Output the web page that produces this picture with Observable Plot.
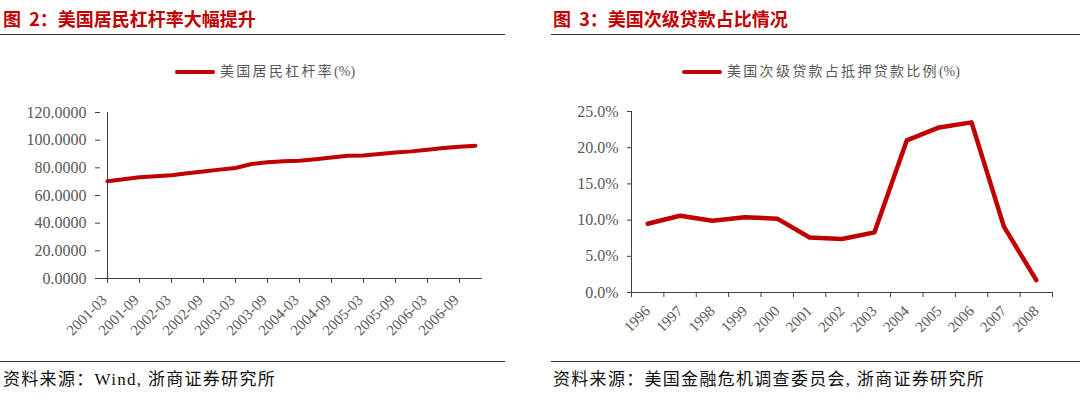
<!DOCTYPE html>
<html><head><meta charset="utf-8">
<script src="https://cdn.jsdelivr.net/npm/d3@7"></script>
<script src="https://cdn.jsdelivr.net/npm/@observablehq/plot@0.6"></script>
<style>
body{margin:0;background:#fff;}
#page{position:relative;width:1080px;height:397px;overflow:hidden;background:#fff;font-family:"Liberation Serif","Noto Sans CJK SC",serif;}
.title{position:absolute;top:5px;font-family:"Noto Sans CJK SC",sans-serif;font-weight:bold;font-size:18px;color:#c00000;line-height:26px;white-space:nowrap;}
.rule{position:absolute;height:0;border-top:1.5px solid #333;}
.legend{position:absolute;top:62px;font-size:14px;color:#595959;display:flex;align-items:center;white-space:nowrap;line-height:20px;}
.legend .cjk{letter-spacing:2.3px;}
.legend .sw{display:inline-block;width:40px;height:4px;background:#c00000;margin-right:5px;border-radius:2px;}
.src{position:absolute;top:369px;font-size:17px;color:#111;white-space:nowrap;letter-spacing:1.3px;line-height:22px;}
.chart{position:absolute;top:100px;}
</style></head>
<body><div id="page">
<div class="title" style="left:3px">图&nbsp;&nbsp;2：美国居民杠杆率大幅提升</div>
<div class="rule" style="left:0;width:505px;top:34px"></div>
<div class="legend" style="left:175px"><span class="sw"></span><span class="cjk">美国居民杠杆率</span><span>(%)</span></div>
<div class="chart" id="left" style="left:0"></div>
<div class="rule" style="left:0;width:505px;top:361px"></div>
<div class="src" style="left:3px">资料来源：Wind, 浙商证券研究所</div>

<div class="title" style="left:553px">图&nbsp;&nbsp;3：美国次级贷款占比情况</div>
<div class="rule" style="left:551px;width:529px;top:34px"></div>
<div class="legend" style="left:682px"><span class="sw"></span><span class="cjk">美国次级贷款占抵押贷款比例</span><span>(%)</span></div>
<div class="chart" id="right" style="left:551px"></div>
<div class="rule" style="left:551px;width:529px;top:361px"></div>
<div class="src" style="left:553px">资料来源：美国金融危机调查委员会, 浙商证券研究所</div>
</div>
<script>
// Left chart data: US household leverage (%), quarterly
const quarters = ["2001-03","2001-06","2001-09","2001-12","2002-03","2002-06","2002-09","2002-12",
  "2003-03","2003-06","2003-09","2003-12","2004-03","2004-06","2004-09","2004-12",
  "2005-03","2005-06","2005-09","2005-12","2006-03","2006-06","2006-09","2006-12"];
const leverage = [70.3,71.7,73.2,73.9,74.6,76.1,77.3,78.7,79.9,82.8,84.0,84.7,
  85.2,86.2,87.4,88.8,89.0,90.0,91.0,91.9,93.1,94.3,95.3,96.0];
const quarterTicks = ["2001-03","2001-09","2002-03","2002-09","2003-03","2003-09",
  "2004-03","2004-09","2005-03","2005-09","2006-03","2006-09"];
const leverageTicks = [0,20,40,60,80,100,120];

// Right chart data: subprime share of mortgage loans (%)
const years = [1996,1997,1998,1999,2000,2001,2002,2003,2004,2005,2006,2007,2008];
const subprimeShare = [9.5,10.6,9.9,10.4,10.2,7.6,7.4,8.3,21.0,22.8,23.5,9.1,1.7];
const shareTicks = [0,5,10,15,20,25];

const RED = "#c00000", GRAY = "#595959", AXIS = "#404040";

const leftData = quarters.map((q,i)=>({q, v: leverage[i]}));
const left = Plot.plot({
  width: 505, height: 250,
  marginLeft: 100, marginRight: 23, marginTop: 12, marginBottom: 72,
  style: {fontFamily: "Liberation Serif, serif", fontSize: "16px", background: "transparent"},
  x: {type: "point", domain: quarters, padding: 0},
  y: {domain: [0, 120]},
  marks: [
    Plot.axisY({ticks: leverageTicks, tickFormat: d => d.toFixed(4), tickSize: 5, tickPadding: 9, fontSize: 16, stroke: AXIS, fill: GRAY, label: null}),
    Plot.axisX({ticks: quarterTicks, tickFormat: () => "", tickSize: 5, stroke: AXIS, label: null}),
    Plot.axisX({ticks: quarterTicks, tickRotate: -45, tickSize: 0, tickPadding: 19, dx: -3, fontSize: 15, fill: GRAY, label: null}),
    Plot.ruleY([0], {stroke: AXIS}),
    Plot.ruleX([quarters[0]], {stroke: AXIS}),
    Plot.line(leftData, {x: "q", y: "v", stroke: RED, strokeWidth: 4, strokeLinejoin: "round", strokeLinecap: "round"})
  ]
});
document.getElementById("left").appendChild(left);

const rightData = years.map((y,i)=>({y, v: subprimeShare[i]}));
const boundaries = years.map(y => y - 0.5).concat([years[years.length-1] + 0.5]);
const right = Plot.plot({
  width: 529, height: 250,
  marginLeft: 80, marginRight: 28, marginTop: 11, marginBottom: 58,
  style: {fontFamily: "Liberation Serif, serif", fontSize: "16px", background: "transparent"},
  x: {domain: [boundaries[0], boundaries[boundaries.length-1]]},
  y: {domain: [0, 25]},
  marks: [
    Plot.axisY({ticks: shareTicks, tickFormat: d => d.toFixed(1) + "%", tickSize: 4, tickPadding: 9, fontSize: 16, stroke: AXIS, fill: GRAY, label: null}),
    Plot.axisX({ticks: boundaries, tickFormat: () => "", tickSize: 5, stroke: AXIS, label: null}),
    Plot.axisX({ticks: years, tickFormat: d => String(d), tickSize: 0, tickRotate: -45, tickPadding: 16, fontSize: 15, fill: GRAY, label: null}),
    Plot.ruleY([0], {stroke: AXIS}),
    Plot.ruleX([boundaries[0]], {stroke: AXIS}),
    Plot.line(rightData, {x: "y", y: "v", stroke: RED, strokeWidth: 4.5, strokeLinejoin: "round", strokeLinecap: "round"})
  ]
});
document.getElementById("right").appendChild(right);
</script>
</body></html>
